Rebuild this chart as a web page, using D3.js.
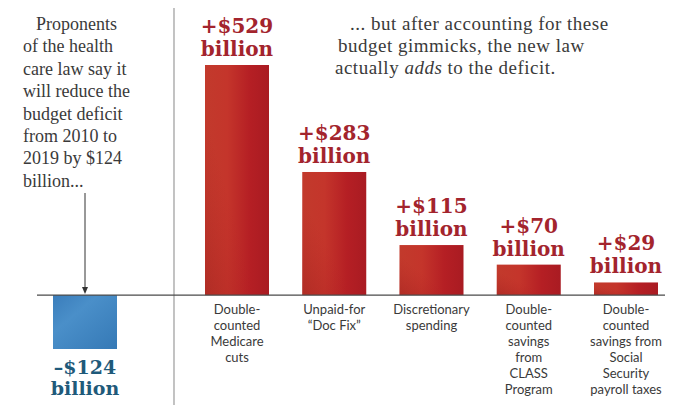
<!DOCTYPE html>
<html><head><meta charset="utf-8">
<script src="https://cdn.jsdelivr.net/npm/d3@7/dist/d3.min.js"></script>
<style>body{margin:0;background:#fff}svg{display:block}</style>
</head><body>
<script>
const redCategories = [
  ["Double-", "counted", "Medicare", "cuts"],
  ["Unpaid-for", "\u201cDoc Fix\u201d"],
  ["Discretionary", "spending"],
  ["Double-", "counted", "savings", "from", "CLASS", "Program"],
  ["Double-", "counted", "savings from", "Social", "Security", "payroll taxes"]
];
const redValues = [529, 283, 115, 70, 29];
const redLabels = ["+$529", "+$283", "+$115", "+$70", "+$29"];
const claimValue = -124;
const claimLabel = "\u2013$124";
const leftText = ["Proponents", "of the health", "care law say it", "will reduce the", "budget deficit", "from 2010 to", "2019 by $124", "billion..."];
const rightText = [[["... but after accounting for these", false]], [["budget gimmicks, the new law", false]], [["actually ", false], ["adds", true], [" to the deficit.", false]]];

const W = 683, H = 407;
const svg = d3.select("body").append("svg").attr("width", W).attr("height", H);
const defs = svg.append("defs");
const rg = defs.append("linearGradient").attr("id", "redg").attr("x1", 0).attr("x2", 1).attr("y1", 0).attr("y2", 0);
rg.append("stop").attr("offset", "0%").attr("stop-color", "#c23a2c");
rg.append("stop").attr("offset", "35%").attr("stop-color", "#c4352b");
rg.append("stop").attr("offset", "70%").attr("stop-color", "#b51f24");
rg.append("stop").attr("offset", "100%").attr("stop-color", "#a91b22");
const rs = defs.append("linearGradient").attr("id", "redsheen").attr("x1", 0).attr("x2", 1).attr("y1", 1).attr("y2", 0);
rs.append("stop").attr("offset", "0%").attr("stop-color", "#8e1418").attr("stop-opacity", 0.35);
rs.append("stop").attr("offset", "40%").attr("stop-color", "#b01c22").attr("stop-opacity", 0.0);
rs.append("stop").attr("offset", "100%").attr("stop-color", "#d85a42").attr("stop-opacity", 0.0);
const bg = defs.append("linearGradient").attr("id", "blueg").attr("x1", 0).attr("x2", 1).attr("y1", 0).attr("y2", 1);
bg.append("stop").attr("offset", "0%").attr("stop-color", "#3a7dbb");
bg.append("stop").attr("offset", "35%").attr("stop-color", "#4a8fc9");
bg.append("stop").attr("offset", "100%").attr("stop-color", "#3579b6");

const y = d3.scaleLinear().domain([claimValue, d3.max(redValues)]).range([349, 65]);
const x = d3.scalePoint().domain(d3.range(redValues.length)).range([237, 626]);
const xClaim = d3.scalePoint().domain([0]).range([85, 85]);
const bw = 64;
const y0 = y(0);

// divider
svg.append("line").attr("x1", 174).attr("x2", 174).attr("y1", 8).attr("y2", 405).attr("stroke", "#9a9a9a").attr("stroke-width", 1.2);

// red bars
const g = svg.append("g");
g.selectAll("rect.red").data(redValues).join("rect").attr("class", "red")
  .attr("x", (d, i) => x(i) - bw / 2).attr("width", bw)
  .attr("y", d => y(d)).attr("height", d => y0 - y(d))
  .attr("fill", "url(#redg)");
g.selectAll("rect.sheen").data(redValues).join("rect").attr("class", "sheen")
  .attr("x", (d, i) => x(i) - bw / 2).attr("width", bw)
  .attr("y", d => y(d)).attr("height", d => y0 - y(d))
  .attr("fill", "url(#redsheen)");

// value labels
const serifBold = "'DejaVu Serif', serif";
g.selectAll("text.val").data(redValues).join("text").attr("class", "val")
  .attr("x", (d, i) => x(i)).attr("y", d => y(d) - 32)
  .attr("text-anchor", "middle").attr("font-family", serifBold).attr("font-weight", "bold")
  .attr("font-size", 20).attr("fill", "#a3242d").text((d, i) => redLabels[i]);
g.selectAll("text.bil").data(redValues).join("text").attr("class", "bil")
  .attr("x", (d, i) => x(i)).attr("y", d => y(d) - 9)
  .attr("text-anchor", "middle").attr("font-family", serifBold).attr("font-weight", "bold")
  .attr("font-size", 20).attr("fill", "#a3242d").text("billion");

// category labels
const cat = g.selectAll("text.cat").data(redCategories).join("text").attr("class", "cat")
  .attr("text-anchor", "middle").attr("font-family", "Lato, sans-serif")
  .attr("font-size", 13).attr("fill", "#3a3a3a");
cat.selectAll("tspan").data((d, i) => d.map(t => ({t, i}))).join("tspan")
  .attr("x", d => x(d.i)).attr("y", (d, j) => y0 + 19 + j * 16).text(d => d.t);

// claim bar
svg.append("rect").attr("x", xClaim(0) - bw / 2).attr("width", bw)
  .attr("y", y0).attr("height", y(claimValue) - y0).attr("fill", "url(#blueg)");
svg.append("text").attr("x", xClaim(0)).attr("y", y(claimValue) + 25)
  .attr("text-anchor", "middle").attr("font-family", serifBold).attr("font-weight", "bold")
  .attr("font-size", 19).attr("fill", "#1f5a7a").text(claimLabel);
svg.append("text").attr("x", xClaim(0)).attr("y", y(claimValue) + 46)
  .attr("text-anchor", "middle").attr("font-family", serifBold).attr("font-weight", "bold")
  .attr("font-size", 19).attr("fill", "#1f5a7a").text("billion");

// baseline
svg.append("line").attr("x1", 37).attr("x2", 665).attr("y1", y0).attr("y2", y0).attr("stroke", "#4a4a4a").attr("stroke-width", 1.2);

// arrow
svg.append("line").attr("x1", xClaim(0)).attr("x2", xClaim(0)).attr("y1", 193).attr("y2", y0 - 4).attr("stroke", "#333").attr("stroke-width", 1);
svg.append("path").attr("d", `M${xClaim(0) - 3},${y0 - 8}L${xClaim(0) + 3},${y0 - 8}L${xClaim(0)},${y0 - 1}Z`).attr("fill", "#333");

// left text
const serif = "'Liberation Serif', serif";
svg.append("text").attr("font-family", serif).attr("font-size", 18).attr("fill", "#3a3a3a")
  .selectAll("tspan").data(leftText).join("tspan")
  .attr("x", (d, i) => i === 0 ? 36 : 23).attr("y", (d, i) => 30 + i * 22.4).text(d => d);

// right text
const rt = svg.append("text").attr("font-family", serif).attr("font-size", 19).attr("letter-spacing", 0.5).attr("fill", "#3a3a3a");
rightText.forEach((line, li) => {
  line.forEach((seg, si) => {
    const ts = rt.append("tspan").text(seg[0]).attr("font-style", seg[1] ? "italic" : "normal");
    if (si === 0) ts.attr("x", [350, 338, 335][li]).attr("y", 30 + li * 22);
  });
});
</script>
</body></html>
